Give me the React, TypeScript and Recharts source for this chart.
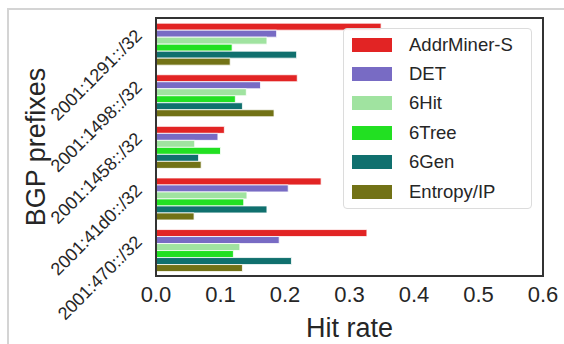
import React from "react";
import { BarChart, Bar, XAxis, YAxis, Legend } from "recharts";

const prefixes = [
  "2001:1291::/32",
  "2001:1498::/32",
  "2001:1458::/32",
  "2001:41d0::/32",
  "2001:470::/32",
];
const addrMinerS = [0.349, 0.219, 0.106, 0.256, 0.327];
const det = [0.187, 0.162, 0.096, 0.205, 0.191];
const sixHit = [0.172, 0.14, 0.06, 0.141, 0.13];
const sixTree = [0.118, 0.123, 0.1, 0.136, 0.12];
const sixGen = [0.218, 0.134, 0.066, 0.172, 0.21];
const entropyIP = [0.115, 0.183, 0.07, 0.059, 0.134];
const xTicks = [0, 0.1, 0.2, 0.3, 0.4, 0.5, 0.6];

const series = [
  { key: "addrMinerS", name: "AddrMiner-S", color: "#e22424", values: addrMinerS },
  { key: "det", name: "DET", color: "#786bc4", values: det },
  { key: "sixHit", name: "6Hit", color: "#a0e3a0", values: sixHit },
  { key: "sixTree", name: "6Tree", color: "#22e022", values: sixTree },
  { key: "sixGen", name: "6Gen", color: "#10706e", values: sixGen },
  { key: "entropyIP", name: "Entropy/IP", color: "#727216", values: entropyIP },
];

const data = prefixes.map((p, i) => {
  const row: Record<string, any> = { prefix: p };
  series.forEach((s) => (row[s.key] = s.values[i]));
  return row;
});

const W = 564;
const H = 344;
const M = { top: 18, right: 21, left: 0, bottom: 0 };
const Y_AXIS_W = 156;
const X_AXIS_H = 68;

const FONT = "'Liberation Sans', Arial, sans-serif";
const TEXT = "#262626";
const SPINE = "#333333";

// rotated prefix labels, anchored at their right end
const PrefixTick = (props: any) => {
  const { x, y, payload } = props;
  const tx = x - 5;
  const ty = y - 7;
  return (
    <text
      x={tx}
      y={ty}
      textAnchor="end"
      fontSize={18}
      fontFamily={FONT}
      fill={TEXT}
      transform={`rotate(-45 ${tx} ${ty})`}
    >
      {payload.value}
    </text>
  );
};

const YTitle = (props: any) => {
  const vb = props.viewBox || {};
  const tx = vb.x + 45;
  const ty = vb.y + vb.height / 2;
  return (
    <text
      x={tx}
      y={ty}
      textAnchor="middle"
      fontSize={27}
      fontFamily={FONT}
      fill={TEXT}
      transform={`rotate(-90 ${tx} ${ty})`}
    >
      BGP prefixes
    </text>
  );
};

// legend built from the series list so order matches the bars
const LegendBox = () => (
  <div
    style={{
      width: 189,
      height: 181,
      border: "1px solid #dcdcdc",
      borderRadius: 4,
      background: "rgba(255,255,255,0.85)",
      boxSizing: "border-box",
      paddingTop: 1,
      fontFamily: FONT,
    }}
  >
    {series.map((s) => (
      <div
        key={s.key}
        style={{ display: "flex", alignItems: "center", height: 29.4 }}
      >
        <div
          style={{
            width: 40,
            height: 14,
            marginLeft: 8,
            background: s.color,
          }}
        />
        <span style={{ marginLeft: 17, fontSize: 18.5, color: TEXT }}>
          {s.name}
        </span>
      </div>
    ))}
  </div>
);

export default function App() {
  // plot box derived from the chart margins, drawn over the bars (spines)
  const px = M.left + Y_AXIS_W;
  const py = M.top;
  const pw = W - M.right - px;
  const ph = H - M.bottom - X_AXIS_H - py;
  return (
    <div
      style={{
        position: "absolute",
        left: 0,
        top: 0,
        width: W,
        height: H,
        background: "#fff",
      }}
    >
      <div
        style={{
          position: "absolute",
          left: 7,
          top: 8,
          right: 0,
          bottom: 0,
          borderTop: "2px solid #d4d4d4",
          borderLeft: "2px solid #d4d4d4",
        }}
      />
      <BarChart
        width={W}
        height={H}
        data={data}
        layout="vertical"
        margin={M}
        barCategoryGap="10%"
        barGap={0}
        style={{ position: "absolute", left: 0, top: 0 }}
      >
        {series.map((s) => (
          <Bar
            key={s.key}
            dataKey={s.key}
            name={s.name}
            fill={s.color}
            stroke="#ffffff"
            strokeWidth={0.8}
            isAnimationActive={false}
          />
        ))}
        <XAxis
          type="number"
          domain={[0, 0.6]}
          ticks={xTicks}
          tickFormatter={(v: number) => v.toFixed(1)}
          height={X_AXIS_H}
          axisLine={false}
          tickLine={false}
          tick={{ fontSize: 22, fontFamily: FONT, fill: TEXT }}
          tickMargin={4}
          label={{
            value: "Hit rate",
            position: "insideBottom",
            offset: 7,
            fontSize: 27,
            fontFamily: FONT,
            fill: TEXT,
          }}
        />
        <YAxis
          type="category"
          dataKey="prefix"
          width={Y_AXIS_W}
          axisLine={false}
          tickLine={false}
          tick={<PrefixTick />}
          label={<YTitle />}
        />
        <Legend
          layout="horizontal"
          verticalAlign="middle"
          align="center"
          content={<LegendBox />}
          wrapperStyle={{ position: "absolute", left: 343, top: 28, width: 189 }}
        />
      </BarChart>
      <svg
        width={W}
        height={H}
        style={{
          position: "absolute",
          left: 0,
          top: 0,
          pointerEvents: "none",
          zIndex: 5,
        }}
      >
        <rect
          x={px}
          y={py}
          width={pw}
          height={ph}
          fill="none"
          stroke={SPINE}
          strokeWidth={2}
        />
      </svg>
    </div>
  );
}
